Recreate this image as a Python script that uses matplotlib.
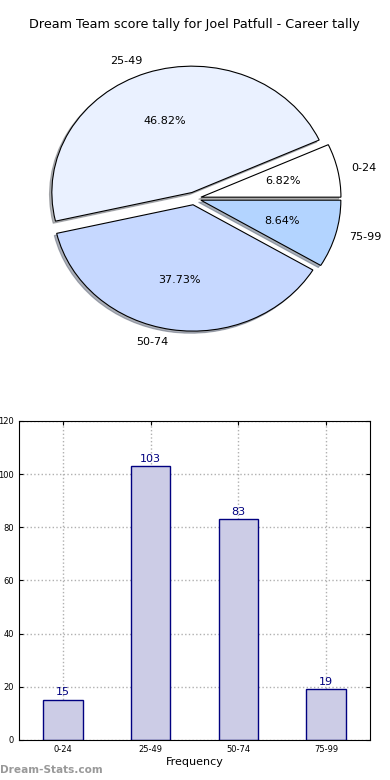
import matplotlib
matplotlib.use("Agg")
import matplotlib.pyplot as plt

categories = ["0-24", "25-49", "50-74", "75-99"]
counts = [15, 103, 83, 19]
pie_colors = ["#ffffff", "#eaf1ff", "#c6d8ff", "#b3d4ff"]
explode = [0.05, 0.05, 0.05, 0.05]
title = "Dream Team score tally for Joel Patfull - Career tally"
yticks = [0, 20, 40, 60, 80, 100, 120]

fig = plt.figure(figsize=(3.9, 7.8), dpi=100)

# Pie
axp = fig.add_axes([0.049, 0.543, 0.8974, 0.405])
wedges, texts, autotexts = axp.pie(
    counts, labels=categories, colors=pie_colors, explode=explode,
    autopct="%1.2f%%", shadow={"ox": -0.012, "oy": -0.012, "shade": 0.55},
    startangle=0,
    wedgeprops=dict(edgecolor="black", linewidth=0.8),
    textprops=dict(fontsize=8))
axp.set_aspect("auto")
axp.set_xlim(-1.25, 1.25)
axp.set_ylim(-1.25, 1.25)
axp.set_title(title, fontsize=9.2, pad=9)

# Bar
axb = fig.add_axes([0.049, 0.0513, 0.9, 0.409])
x = list(range(len(categories)))
bars = axb.bar(x, counts, width=0.45, color="#ccccE6", edgecolor="navy",
               linewidth=1, zorder=2)
for xi, c in zip(x, counts):
    axb.text(xi, c + 1, str(c), ha="center", va="bottom", color="navy",
             fontsize=8, zorder=3)
axb.set_xlim(-0.5, 3.5)
axb.set_ylim(0, 120)
axb.set_yticks(yticks)
axb.set_xticks(x)
axb.set_xticklabels(categories)
axb.tick_params(axis="both", labelsize=6, direction="in", top=True,
                right=True, length=3)
axb.grid(True, linestyle=":", color="#b0b0b0", linewidth=1, zorder=0)
axb.set_axisbelow(True)
axb.set_xlabel("Frequency", fontsize=8, labelpad=2)

fig.text(0.0, 0.013, "Dream-Stats.com", color="#999999", fontsize=7.6,
         fontweight="bold", ha="left", va="center")

fig.savefig("out.png", dpi=100)
